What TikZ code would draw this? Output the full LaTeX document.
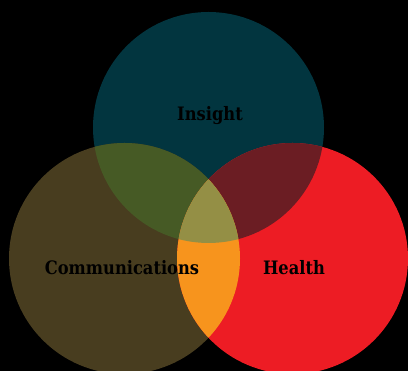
\documentclass[tikz,border=0pt]{standalone}
\usepackage{fontspec}
\setmainfont{DejaVu Serif}
\newfontfamily\lblfont{DejaVu Serif}[FakeStretch=0.88]
\definecolor{cT}{HTML}{02353F}
\definecolor{cL}{HTML}{483D1F}
\definecolor{cR}{HTML}{ED1C24}
\definecolor{cTL}{HTML}{465A25}
\definecolor{cTR}{HTML}{6B1D23}
\definecolor{cLR}{HTML}{F7941D}
\definecolor{cAll}{HTML}{948F45}
\begin{document}
\begin{tikzpicture}[x=1pt,y=-1pt,
  lbl/.style={text=black,font=\lblfont\fontsize{18.5}{20}\selectfont\bfseries,inner sep=0pt}]
\fill[black] (0,0) rectangle (408,371);
\useasboundingbox (0,0) rectangle (408,371);
\coordinate (T) at (208.5,127.5);
\coordinate (L) at (124.5,258.5);
\coordinate (R) at (292.5,258.5);
\def\R{115.5pt}
\fill[cT] (T) circle (\R);
\fill[cL] (L) circle (\R);
\fill[cR] (R) circle (\R);
\begin{scope}
  \clip (T) circle (\R);
  \fill[cTL] (L) circle (\R);
  \fill[cTR] (R) circle (\R);
\end{scope}
\begin{scope}
  \clip (L) circle (\R);
  \fill[cLR] (R) circle (\R);
  \clip (R) circle (\R);
  \fill[cAll] (T) circle (\R);
\end{scope}
\node[lbl] (insight) at (210,116) {Insight};
\node[lbl] (comm) at (122,268) {Communications};
\node[lbl] (health) at (294,268) {Health};
\end{tikzpicture}
\end{document}
